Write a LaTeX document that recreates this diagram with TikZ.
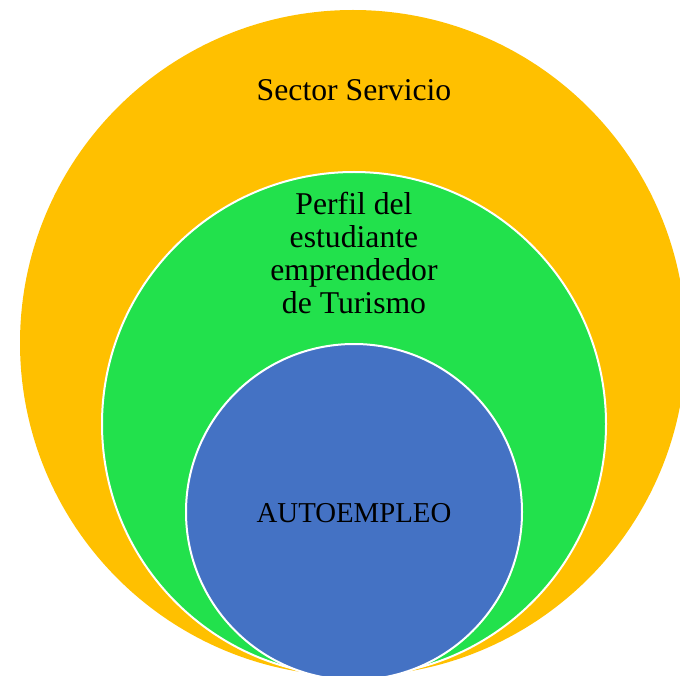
\documentclass[tikz,border=0pt]{standalone}
\usepackage{fontspec}
\setmainfont{Liberation Serif}
\definecolor{outery}{HTML}{FFC000}
\definecolor{midg}{HTML}{22E14C}
\definecolor{innerb}{HTML}{4472C4}
\tikzset{
  ring/.style={circle, inner sep=0pt, draw=white, line width=2pt},
  lbl/.style={text=black, align=center, inner sep=0pt}
}
\begin{document}
\begin{tikzpicture}[x=1pt,y=1pt]
\useasboundingbox (0,0) rectangle (680,-676);
\clip (0,0) rectangle (680,-676);
\node[ring, draw=none, fill=outery, minimum size=666pt] (outer) at (353,-343) {};
\node[ring, fill=midg, minimum size=504pt] (mid) at (354,-424) {};
\node[ring, fill=innerb, minimum size=336pt] (inner) at (354,-512) {};
\node[lbl, anchor=base, font=\fontsize{31.7}{33}\selectfont] (t1) at (354,-101) {Sector Servicio};
\node[lbl, anchor=base, font=\fontsize{31.7}{32.7}\selectfont] (t2) at (354,-313) {Perfil del\\estudiante\\emprendedor\\de Turismo};
\node[lbl, anchor=base, font=\fontsize{28.8}{30}\selectfont] (t3) at (354,-522) {AUTOEMPLEO};
\end{tikzpicture}
\end{document}
